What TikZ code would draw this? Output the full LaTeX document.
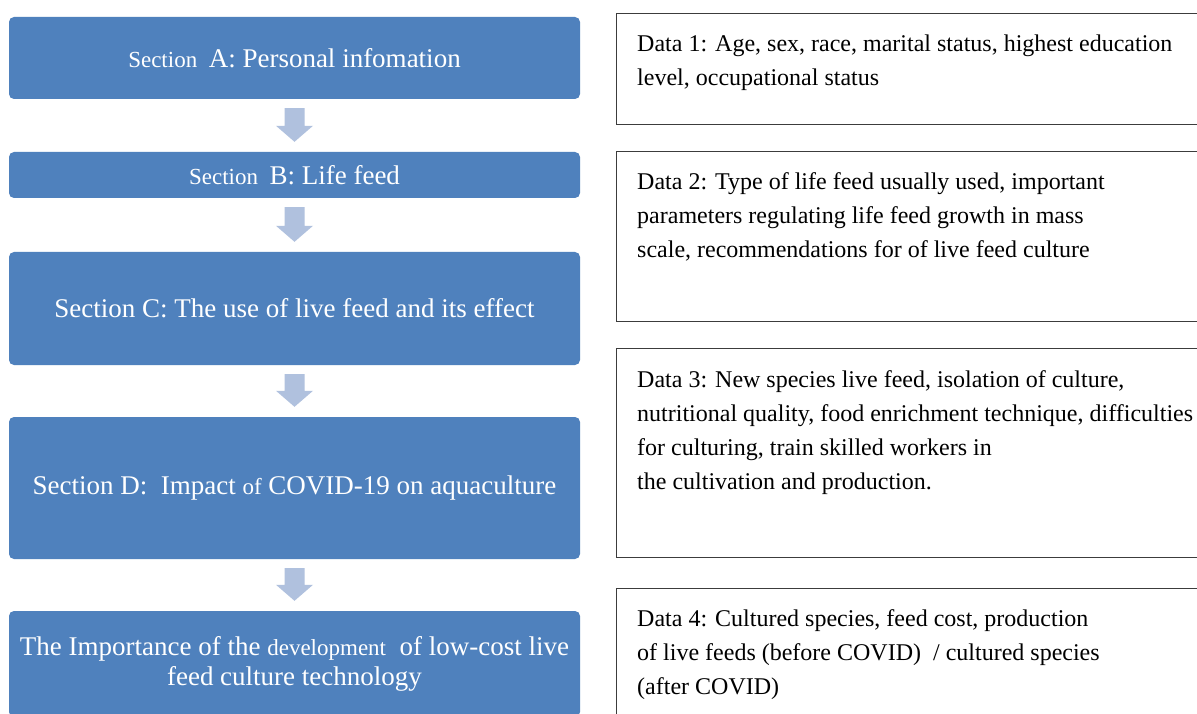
\documentclass[tikz,border=0pt]{standalone}
\usepackage{fontspec}
\setmainfont{Liberation Serif}
\usetikzlibrary{calc}

\definecolor{secblue}{HTML}{4F81BD}
\definecolor{arrowblue}{HTML}{B0C1DE}
\definecolor{framegray}{HTML}{3C3C3C}

\tikzset{
  section/.style={fill=secblue, draw=none, rounded corners=5pt,
    minimum width=571pt, text=white, align=center,
    font=\fontsize{27}{30}\selectfont, inner sep=0pt},
  databox/.style={draw=framegray, line width=1.3pt, minimum width=600pt,
    anchor=north west, inner sep=0pt},
  % the base anchor sits on the last line of a multi-line node
  datatext/.style={anchor=base west, align=left, inner sep=0pt,
    font=\fontsize{24}{34}\selectfont},
}

% block arrow pointing down from one section box to the next
\newcommand\flowarrow[2]{%
  \fill[arrowblue] let \p1=($(#1.south)+(0,9)$), \p2=($(#2.north)+(0,-10)$) in
    (\x1-10pt,\y1) -- (\x1+10pt,\y1) -- (\x1+10pt,\y2+16pt)
    -- (\x1+18.5pt,\y2+16pt) -- (\x1,\y2) -- (\x1-18.5pt,\y2+16pt)
    -- (\x1-10pt,\y2+16pt) -- cycle;}

\newcommand\smallword[1]{{\fontsize{23}{30}\selectfont #1}}

\begin{document}
\begin{tikzpicture}[x=1pt,y=-1pt]
\clip (0,0) rectangle (1197,714);
\fill[white] (0,0) rectangle (1197,714);

% section boxes
\node[section, minimum height=82pt] (A) at (294.5,58)
  {\smallword{Section~ }A: Personal infomation};
\node[section, minimum height=46pt] (B) at (294.5,175)
  {\smallword{Section~ }B: Life feed};
\node[section, minimum height=113pt] (C) at (294.5,308.5)
  {Section C: The use of live feed and its effect};
\node[section, minimum height=142pt] (D) at (294.5,488)
  {Section D:~ Impact \smallword{of} COVID-19 on aquaculture};
\node[section, minimum height=106pt] (E) at (294.5,664)
  {The Importance of the \smallword{development}~ of low-cost live\\feed culture technology};

\flowarrow{A}{B}
\flowarrow{B}{C}
\flowarrow{C}{D}
\flowarrow{D}{E}

% data boxes
\node[databox, minimum height=111pt] (d1) at (616,13) {};
\node[databox, minimum height=170pt] (d2) at (616,151) {};
\node[databox, minimum height=209pt] (d3) at (616,348) {};
\node[databox, minimum height=140pt] (d4) at (616,588) {};

\node[datatext] (t1) at (637,86)
  {Data 1: Age, sex, race, marital status, highest education\\level, occupational status};
\node[datatext] (t2) at (637,258)
  {Data 2: Type of life feed usually used, important\\parameters regulating life feed growth in mass\\scale, recommendations for of live feed culture};
\node[datatext] (t3) at (637,489)
  {Data 3: New species live feed, isolation of culture,\\nutritional quality, food enrichment technique, difficulties\\for culturing, train skilled workers in\\the cultivation and production.};
\node[datatext] (t4) at (637,694)
  {Data 4: Cultured species, feed cost, production\\of live feeds (before COVID)~ / cultured species\\(after COVID)};
\end{tikzpicture}
\end{document}
